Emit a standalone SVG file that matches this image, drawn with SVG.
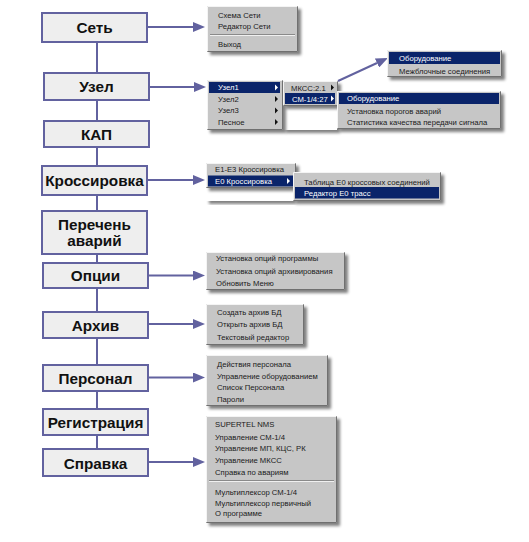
<svg xmlns="http://www.w3.org/2000/svg" width="529" height="542" viewBox="0 0 529 542">
<defs>
<style>
.box{fill:#eeeeee;stroke:#62629f;stroke-width:2}
.lbl{font-family:"Liberation Sans",Arial,sans-serif;font-weight:bold;font-size:15.3px;text-anchor:middle;fill:#111}
.conn{stroke:#62629f;stroke-width:2;fill:none}
.arr{stroke:#62629f;stroke-width:2;fill:none;marker-end:url(#ah)}
.menu{fill:#c6c6c6;filter:url(#sh)}
.blank{fill:#ffffff;filter:url(#sh)}
.hi{stroke:#f4f4f4;stroke-width:1;fill:none}
.lo{stroke:#707070;stroke-width:1;fill:none}
.hl{fill:#0a246a}
.mt{font-family:"Liberation Sans",Arial,sans-serif;font-size:7.7px;fill:#1a1a1a}
.w{fill:#ffffff}
.tri{fill:#111}
.triw{fill:#ffffff}
.sep{stroke:#8a8a8a;stroke-width:1}
.sepw{stroke:#f0f0f0;stroke-width:1}
</style>
<marker id="ah" markerUnits="userSpaceOnUse" markerWidth="12" markerHeight="10" refX="0" refY="5" orient="auto">
<path d="M0,0 L12,5 L0,10 z" fill="#62629f"/>
</marker>
<filter id="sh" x="-10%" y="-10%" width="130%" height="140%">
<feGaussianBlur in="SourceAlpha" stdDeviation="1.6"/>
<feOffset dx="3" dy="3" result="o"/>
<feComponentTransfer><feFuncA type="linear" slope="0.5"/></feComponentTransfer>
<feMerge><feMergeNode/><feMergeNode in="SourceGraphic"/></feMerge>
</filter>
</defs>
<rect width="529" height="542" fill="#ffffff"/>

<g id="connectors">
<path class="conn" d="M97,42 V73 M97,100 V121 M97,147 V166 M97,195 V211 M97,254 V263 M97,288 V312 M97,338 V365 M97,391 V409 M97,435 V449"/>
<path class="arr" d="M147,27 H193"/>
<path class="arr" d="M149,87 H194"/>
<path class="arr" d="M147,180 H193"/>
<path class="arr" d="M148,275.5 H193"/>
<path class="arr" d="M148,324 H193"/>
<path class="arr" d="M148,377.5 H193"/>
<path class="arr" d="M148,462 H193"/>
<path class="arr" d="M338,81 L377,63"/>
</g>

<g id="node-set"><rect class="box" x="42" y="13" width="105" height="29"/><text class="lbl" x="94.5" y="32.5">Сеть</text></g>
<g id="node-uzel"><rect class="box" x="44" y="73" width="105" height="27"/><text class="lbl" x="96.5" y="92">Узел</text></g>
<g id="node-kap"><rect class="box" x="44" y="121" width="105" height="26"/><text class="lbl" x="96.5" y="140">КАП</text></g>
<g id="node-kross"><rect class="box" x="42" y="166" width="105" height="29"/><text class="lbl" x="94.5" y="186">Кроссировка</text></g>
<g id="node-perechen"><rect class="box" x="42" y="211" width="105" height="43"/><text class="lbl" x="94.5" y="229.5">Перечень</text><text class="lbl" x="94.5" y="245.5">аварий</text></g>
<g id="node-opcii"><rect class="box" x="43" y="263" width="105" height="25"/><text class="lbl" x="95.5" y="281">Опции</text></g>
<g id="node-arhiv"><rect class="box" x="43" y="312" width="105" height="26"/><text class="lbl" x="95.5" y="330.5">Архив</text></g>
<g id="node-personal"><rect class="box" x="43" y="365" width="105" height="26"/><text class="lbl" x="95.5" y="383.5">Персонал</text></g>
<g id="node-registr"><rect class="box" x="43" y="409" width="105" height="26"/><text class="lbl" x="95.5" y="427.5">Регистрация</text></g>
<g id="node-spravka"><rect class="box" x="43" y="449" width="105" height="27"/><text class="lbl" x="95.5" y="469">Справка</text></g>

<g id="menu-set">
<rect class="menu" x="207" y="6" width="91" height="46"/>
<path class="hi" d="M207.5,51 V6.5 H297"/><path class="lo" d="M207.5,51.5 H297.5 V6.5"/>
<text class="mt" x="218" y="18">Схема Сети</text>
<text class="mt" x="218" y="29">Редактор Сети</text>
<line class="sep" x1="210" y1="34.5" x2="295" y2="34.5"/><line class="sepw" x1="210" y1="35.5" x2="295" y2="35.5"/>
<text class="mt" x="218" y="47">Выход</text>
</g>

<g id="menu-uzel">
<rect class="blank" x="283" y="106" width="54" height="24"/>
<rect class="menu" x="207" y="80" width="76" height="50"/>
<path class="hi" d="M207.5,129 V80.5 H282"/><path class="lo" d="M207.5,129.5 H282.5 V80.5"/>
<rect class="hl" x="209" y="82" width="71" height="11"/>
<text class="mt w" x="218" y="90">Узел1</text>
<text class="mt" x="218" y="102">Узел2</text>
<text class="mt" x="218" y="113">Узел3</text>
<text class="mt" x="218" y="125">Песное</text>
<path class="triw" d="M275,84.5 l3,3 l-3,3 z"/>
<path class="tri" d="M275,96 l3,3 l-3,3 z"/>
<path class="tri" d="M275,107.5 l3,3 l-3,3 z"/>
<path class="tri" d="M275,119 l3,3 l-3,3 z"/>
<rect class="menu" x="283" y="81" width="55" height="25"/>
<path class="hi" d="M283.5,105 V81.5 H337"/><path class="lo" d="M283.5,105.5 H337.5 V81.5"/>
<text class="mt" x="291" y="90.5">МКСС:2.1</text>
<path class="tri" d="M331,84.5 l3,3 l-3,3 z"/>
<rect class="hl" x="285" y="93" width="50" height="11"/>
<text class="mt w" x="292" y="101.5">СМ-1/4:27</text>
<path class="triw" d="M331,95.5 l3,3 l-3,3 z"/>
<rect class="menu" x="337" y="91" width="164" height="38"/>
<path class="hi" d="M337.5,128 V91.5 H500"/><path class="lo" d="M337.5,128.5 H500.5 V91.5"/>
<rect class="hl" x="339" y="93" width="160" height="11"/>
<text class="mt w" x="347" y="101">Оборудование</text>
<text class="mt" x="347" y="114">Установка порогов аварий</text>
<text class="mt" x="347" y="125">Статистика качества передачи сигнала</text>
<rect class="menu" x="387" y="50" width="115" height="27"/>
<path class="hi" d="M387.5,76 V50.5 H501"/><path class="lo" d="M387.5,76.5 H501.5 V50.5"/>
<rect class="hl" x="389" y="52" width="111" height="12"/>
<text class="mt w" x="399" y="61">Оборудование</text>
<text class="mt" x="399" y="73.5">Межблочные соединения</text>
</g>

<g id="menu-kross">
<rect class="blank" x="206" y="188" width="87" height="13"/>
<rect class="menu" x="206" y="163" width="90" height="25"/>
<path class="hi" d="M206.5,187 V163.5 H295"/><path class="lo" d="M206.5,187.5 H295.5 V163.5"/>
<text class="mt" x="215" y="172">E1-E3 Кроссировка</text>
<rect class="hl" x="208" y="175.5" width="86" height="11"/>
<text class="mt w" x="215" y="184">E0 Кроссировка</text>
<path class="triw" d="M287,178 l3,3 l-3,3 z"/>
<rect class="menu" x="293" y="172" width="148" height="29"/>
<path class="hi" d="M293.5,200 V172.5 H440"/><path class="lo" d="M293.5,200.5 H440.5 V172.5"/>
<text class="mt" x="304" y="184.5">Таблица E0 кроссовых соединений</text>
<rect class="hl" x="295" y="187" width="144" height="11.5"/>
<text class="mt w" x="304" y="195.5">Редактор E0 трасс</text>
</g>

<g id="menu-opcii">
<rect class="menu" x="206" y="252" width="139" height="38"/>
<path class="hi" d="M206.5,289 V252.5 H344"/><path class="lo" d="M206.5,289.5 H344.5 V252.5"/>
<text class="mt" x="216" y="261.3">Установка опций программы</text>
<text class="mt" x="216" y="274">Установка опций архивирования</text>
<text class="mt" x="216" y="286.3">Обновить Меню</text>
</g>

<g id="menu-arhiv">
<rect class="menu" x="206" y="304" width="98" height="41"/>
<path class="hi" d="M206.5,344 V304.5 H303"/><path class="lo" d="M206.5,344.5 H303.5 V304.5"/>
<text class="mt" x="217" y="314.7">Создать архив БД</text>
<text class="mt" x="217" y="327.3">Открыть архив БД</text>
<text class="mt" x="217" y="340.3">Текстовый редактор</text>
</g>

<g id="menu-personal">
<rect class="menu" x="206" y="355" width="122" height="51"/>
<path class="hi" d="M206.5,405 V355.5 H327"/><path class="lo" d="M206.5,405.5 H327.5 V355.5"/>
<text class="mt" x="217" y="367">Действия персонала</text>
<text class="mt" x="217" y="378.7">Управление оборудованием</text>
<text class="mt" x="217" y="390.3">Список Персонала</text>
<text class="mt" x="217" y="402">Пароли</text>
</g>

<g id="menu-spravka">
<rect class="menu" x="206" y="416" width="131" height="107"/>
<path class="hi" d="M206.5,522 V416.5 H336"/><path class="lo" d="M206.5,522.5 H336.5 V416.5"/>
<text class="mt" x="215" y="427.3">SUPERTEL NMS</text>
<text class="mt" x="215" y="439.5">Управление СМ-1/4</text>
<text class="mt" x="215" y="451.3">Управление МП, КЦС, РК</text>
<text class="mt" x="215" y="463">Управление МКСС</text>
<text class="mt" x="215" y="474.7">Справка по авариям</text>
<line class="sep" x1="209" y1="480.5" x2="334" y2="480.5"/><line class="sepw" x1="209" y1="481.5" x2="334" y2="481.5"/>
<text class="mt" x="215" y="494.5">Мультиплексор СМ-1/4</text>
<text class="mt" x="215" y="505.7">Мультиплексор первичный</text>
<text class="mt" x="215" y="516.3">О программе</text>
</g>
</svg>
